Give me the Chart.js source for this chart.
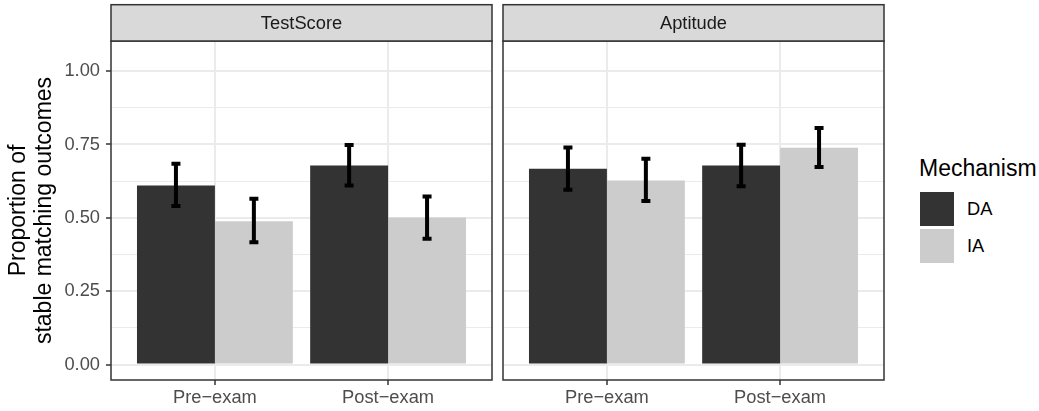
<!DOCTYPE html>
<html>
<head>
<meta charset="utf-8">
<script src="https://cdn.jsdelivr.net/npm/chart.js@4.4.1/dist/chart.umd.min.js"></script>
<style>
  body { margin: 0; background: #fff; }
  #wrap { position: relative; width: 1039px; height: 411px; font-family: "Liberation Sans", Arial, sans-serif; }
  canvas { position: absolute; top: 0; }
  .ltitle { position: absolute; font-size: 23px; line-height: 23px; color: #000; white-space: nowrap; }
  .key { position: absolute; width: 34px; height: 34px; }
  .lab { position: absolute; font-size: 18.3px; line-height: 20px; color: #000; }
</style>
</head>
<body>
<div id="wrap">
  <canvas id="chartTestScore" width="496" height="411" style="left:0px"></canvas>
  <canvas id="chartAptitude" width="392" height="411" style="left:496px"></canvas>
  <div id="legend"></div>
</div>
<script>
// data
const groups = ["Pre\u2212exam", "Post\u2212exam"];
const mechanisms = ["DA", "IA"];

const testScoreDA = [0.610, 0.678];
const testScoreDALow = [0.540, 0.610];
const testScoreDAHigh = [0.684, 0.748];
const testScoreIA = [0.488, 0.501];
const testScoreIALow = [0.417, 0.429];
const testScoreIAHigh = [0.565, 0.573];

const aptitudeDA = [0.667, 0.678];
const aptitudeDALow = [0.596, 0.608];
const aptitudeDAHigh = [0.740, 0.749];
const aptitudeIA = [0.627, 0.739];
const aptitudeIALow = [0.557, 0.673];
const aptitudeIAHigh = [0.701, 0.806];

const yTicks = [0, 0.25, 0.5, 0.75, 1];
const yMinorTicks = [0.125, 0.375, 0.625, 0.875];

const mechColors = ["#333333", "#CCCCCC"];

Chart.defaults.font.family = '"Liberation Sans", Arial, sans-serif';
Chart.defaults.devicePixelRatio = 1;

function toPoints(values) {
  return values.map((v, i) => ({ x: i + 1, y: v }));
}

const panelDecor = {
  id: "panelDecor",
  afterDatasetsDraw(chart) {
    const ctx = chart.ctx;
    const yScale = chart.scales.y;
    chart.data.datasets.forEach((ds, di) => {
      const meta = chart.getDatasetMeta(di);
      meta.data.forEach((bar, i) => {
        const top = yScale.getPixelForValue(ds.errHigh[i]);
        const bot = yScale.getPixelForValue(ds.errLow[i]);
        ctx.save();
        ctx.strokeStyle = "#000";
        ctx.lineWidth = 4;
        ctx.lineCap = "butt";
        ctx.beginPath();
        ctx.moveTo(bar.x, top);
        ctx.lineTo(bar.x, bot);
        ctx.moveTo(bar.x - 4.5, top);
        ctx.lineTo(bar.x + 4.5, top);
        ctx.moveTo(bar.x - 4.5, bot);
        ctx.lineTo(bar.x + 4.5, bot);
        ctx.stroke();
        ctx.restore();
      });
    });
  },
  afterDraw(chart, args, opts) {
    const ctx = chart.ctx;
    const a = chart.chartArea;
    ctx.save();
    ctx.strokeStyle = "#333333";
    ctx.lineWidth = 1.5;
    ctx.strokeRect(a.left, a.top, a.right - a.left, a.bottom - a.top);
    // facet strip
    const stripTop = 4.7;
    ctx.fillStyle = "#D9D9D9";
    ctx.fillRect(a.left, stripTop, a.right - a.left, a.top - stripTop);
    ctx.strokeRect(a.left, stripTop, a.right - a.left, a.top - stripTop);
    ctx.fillStyle = "#1A1A1A";
    ctx.font = '18.3px "Liberation Sans", Arial, sans-serif';
    ctx.textAlign = "center";
    ctx.textBaseline = "middle";
    ctx.fillText(opts.label, (a.left + a.right) / 2, (stripTop + a.top) / 2 + 1);
    ctx.restore();
  }
};

function createChart(id, label, da, daLow, daHigh, ia, iaLow, iaHigh, showY) {
  const ctx = document.getElementById(id).getContext("2d");
  return new Chart(ctx, {
    type: "bar",
    data: {
      datasets: [
        {
          label: mechanisms[0],
          data: toPoints(da),
          errLow: daLow,
          errHigh: daHigh,
          backgroundColor: mechColors[0],
          borderWidth: 0
        },
        {
          label: mechanisms[1],
          data: toPoints(ia),
          errLow: iaLow,
          errHigh: iaHigh,
          backgroundColor: mechColors[1],
          borderWidth: 0
        }
      ]
    },
    options: {
      responsive: false,
      animation: false,
      categoryPercentage: 0.9,
      barPercentage: 1,
      layout: { padding: { top: 41, right: 4, bottom: 0, left: showY ? 0 : 7 } },
      plugins: {
        legend: { display: false },
        tooltip: { enabled: false },
        panelDecor: { label: label }
      },
      scales: {
        x: {
          type: "linear",
          min: 0.4,
          max: 2.6,
          offset: false,
          afterBuildTicks: (scale) => {
            scale.ticks = groups.map((g, i) => ({ value: i + 1 }));
          },
          afterFit: (scale) => { scale.height = 31; },
          border: { display: false },
          grid: {
            offset: false,
            color: "#EBEBEB",
            lineWidth: 2,
            tickColor: "#333333",
            tickWidth: 1.5,
            tickLength: 5
          },
          ticks: {
            color: "#4D4D4D",
            font: { size: 18.3 },
            padding: 2,
            maxRotation: 0,
            callback: (v) => groups[Math.round(v) - 1] || ""
          }
        },
        y: {
          min: -0.0525,
          max: 1.1025,
          afterBuildTicks: (scale) => {
            scale.ticks = yTicks.concat(yMinorTicks).sort((p, q) => p - q).map((v) => ({ value: v }));
          },
          afterFit: (scale) => { scale.width = showY ? 111 : 0; },
          border: { display: false },
          grid: {
            color: "#EBEBEB",
            lineWidth: (c) => (yTicks.includes(c.tick.value) ? 2 : 1),
            tickColor: (c) => (showY && yTicks.includes(c.tick.value) ? "#333333" : "rgba(0,0,0,0)"),
            tickWidth: 1.5,
            drawTicks: showY,
            tickLength: 5
          },
          ticks: {
            display: showY,
            color: "#4D4D4D",
            font: { size: 18.3 },
            padding: 6,
            autoSkip: false,
            callback: (v) => (yTicks.includes(v) ? v.toFixed(2) : "")
          },
          title: {
            display: showY,
            text: ["Proportion of", "stable matching outcomes"],
            color: "#000",
            font: { size: 23, lineHeight: 1.16 },
            padding: { top: 5, bottom: 0 }
          }
        }
      }
    },
    plugins: [panelDecor]
  });
}

createChart("chartTestScore", "TestScore", testScoreDA, testScoreDALow, testScoreDAHigh,
  testScoreIA, testScoreIALow, testScoreIAHigh, true);
createChart("chartAptitude", "Aptitude", aptitudeDA, aptitudeDALow, aptitudeDAHigh,
  aptitudeIA, aptitudeIALow, aptitudeIAHigh, false);

// legend
const legend = document.getElementById("legend");
let html = '<div class="ltitle" style="left:919px;top:157px">Mechanism</div>';
mechanisms.forEach((m, i) => {
  const top = 192 + i * 37;
  html += '<div class="key" style="left:920px;top:' + top + 'px;background:' + mechColors[i] + '"></div>';
  html += '<div class="lab" style="left:967px;top:' + (top + 7) + 'px">' + m + '</div>';
});
legend.innerHTML = html;
</script>
</body>
</html>
